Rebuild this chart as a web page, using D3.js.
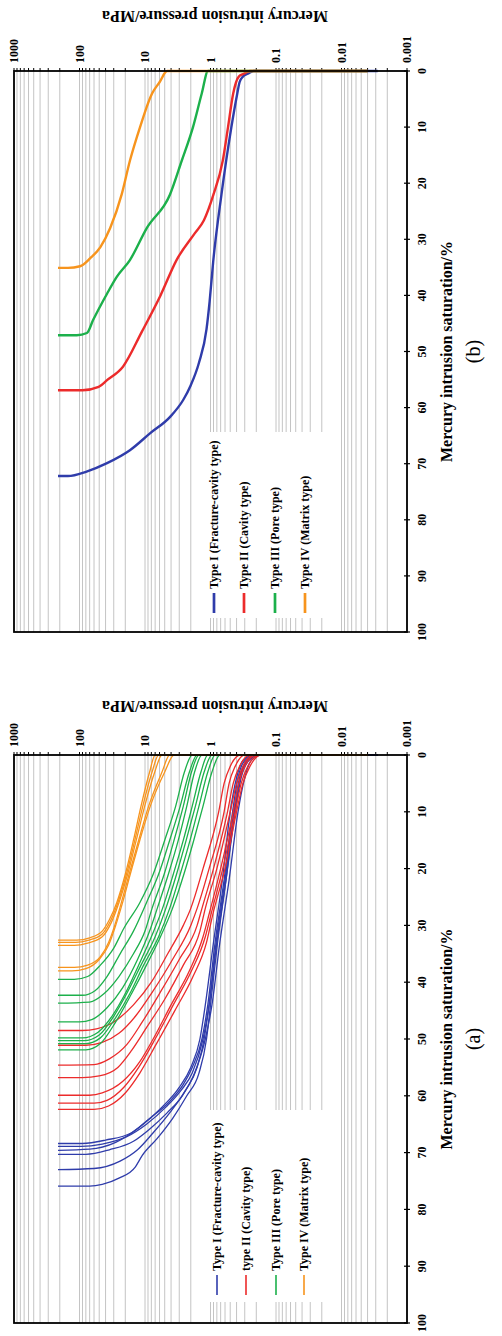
<!DOCTYPE html>
<html lang="en">
<head>
<meta charset="UTF-8">
<title>Mercury intrusion curves</title>
<script src="https://d3js.org/d3.v7.min.js"></script>
<style>
    body { margin: 0; background: #fff; }
    svg text { font-family: "Liberation Serif", "Times New Roman", serif; }
</style>
</head>
<body>
<script>
// pressure axis (MPa), log, and saturation axis (%)
var pressureTicks = [1000, 100, 10, 1, 0.1, 0.01, 0.001];
var pressureLabels = ["1000", "100", "10", "1", "0.1", "0.01", "0.001"];
var satTicks = [0, 10, 20, 30, 40, 50, 60, 70, 80, 90, 100];

var typeNames_b = ["Type I (Fracture-cavity type)", "Type II (Cavity type)", "Type III (Pore type)", "Type IV (Matrix type)"];
var typeNames_a = ["Type I (Fracture-cavity type)", "type II (Cavity type)", "Type III (Pore type)", "Type IV (Matrix type)"];
var typeColors = ["#2f3caa", "#ec2b2b", "#1cb04b", "#f7941d"];

// panel (b): one averaged curve per type, [saturation %, pressure MPa]
var typeI_b = [[0,0.0028],[0,0.22],[0.5,0.27],[1,0.32],[2,0.36],[4,0.39],[10,0.48],[22,0.68],[34,0.91],[41,1.03],[46,1.15],[52,1.5],[56,2.0],[58.6,2.6],[61.6,4.1],[64.6,8.4],[67.6,17],[69.9,38],[71.4,78],[72.2,150],[72.2,213]];
var typeII_b = [[0,0.004],[0,0.25],[0.5,0.31],[1,0.37],[4,0.45],[10,0.54],[16,0.65],[22,0.9],[26.6,1.26],[28.9,1.73],[33.7,3.3],[40,5.8],[46.5,11.2],[52.7,21.7],[55.1,38],[56.3,51],[56.9,90],[56.9,213]];
var typeIII_b = [[0,0.004],[0,1.09],[4,1.36],[10,1.85],[16,2.75],[22,4.15],[28,9.4],[33.7,17],[36.7,27],[39.7,38],[44.4,62],[46.7,77],[47.1,110],[47.1,213]];
var typeIV_b = [[0,0.004],[0,4.6],[2,6],[4,7.8],[10,11.9],[16,17],[22,22.7],[28,34],[31.4,48],[33.4,69],[34.8,98],[35.1,150],[35.1,213]];

// panel (a): all samples per type
var typeI_a = [
    [[0,0.0028],[0,0.2],[1,0.3],[4,0.38],[10,0.46],[22,0.62],[33,0.85],[44,1.1],[50,1.35],[55,1.9],[58,2.6],[61,4.2],[64,8.5],[66.5,16],[67.8,40],[68.4,90],[68.4,213]],
    [[0,0.0028],[0,0.18],[1,0.26],[4,0.34],[10,0.42],[22,0.58],[33,0.8],[44,1.05],[50,1.3],[56,1.9],[59,2.8],[62,4.8],[65,9.5],[67.2,19],[68.5,45],[68.9,95],[68.9,213]],
    [[0,0.0028],[0,0.22],[1,0.32],[4,0.4],[10,0.5],[22,0.66],[33,0.9],[44,1.2],[50,1.45],[55,2.0],[58.5,3.0],[62,5.5],[65.5,12],[68.2,28],[69.4,70],[69.6,213]],
    [[0,0.0028],[0,0.17],[1,0.24],[4,0.3],[10,0.38],[22,0.52],[33,0.72],[44,0.95],[50,1.2],[56,1.75],[60,2.7],[63,4.6],[66,8.8],[68,15],[69.5,35],[70.3,80],[70.3,213]],
    [[0,0.0028],[0,0.2],[1,0.28],[4,0.36],[10,0.44],[22,0.6],[33,0.82],[44,1.05],[50,1.25],[55,1.6],[59,2.4],[63,4.2],[66.5,7.5],[69.5,13],[71.5,24],[72.8,60],[73,213]],
    [[0,0.0028],[0,0.19],[1,0.27],[4,0.35],[10,0.43],[22,0.58],[33,0.78],[44,1.0],[50,1.15],[56,1.5],[60,2.3],[64,3.8],[67.5,6.5],[70.5,11],[72.5,14],[74.5,25],[75.6,45],[75.9,70],[75.9,213]]
];
var typeII_a = [
    [[0,0.004],[0,0.35],[2,0.5],[5,0.62],[10,0.75],[20,1.3],[27,2.0],[30,2.6],[35,4.5],[40,8],[44,15],[47,30],[48.2,55],[48.5,90],[48.5,213]],
    [[0,0.004],[0,0.3],[2,0.42],[5,0.52],[10,0.62],[20,1.05],[27,1.6],[30,2.0],[36,3.8],[42,8],[46,14],[49,25],[50.6,45],[51.1,80],[51.1,213]],
    [[0,0.004],[0,0.25],[2,0.36],[5,0.45],[10,0.55],[20,0.9],[27,1.35],[30,1.6],[36,3.0],[42,6],[47,11],[51,19],[53.5,35],[54.5,60],[54.6,213]],
    [[0,0.004],[0,0.22],[2,0.32],[5,0.4],[10,0.5],[20,0.8],[27,1.2],[31,1.45],[37,2.6],[43,5],[48,9.5],[52,16],[55,26],[56.5,50],[56.8,90],[56.8,213]],
    [[0,0.004],[0,0.2],[2,0.3],[5,0.37],[10,0.45],[20,0.7],[28,1.05],[32,1.3],[38,2.1],[44,4],[50,7.5],[54,12],[57.5,22],[59.5,45],[59.9,70],[59.9,213]],
    [[0,0.004],[0,0.18],[2,0.27],[5,0.34],[10,0.42],[20,0.65],[28,0.98],[32,1.2],[38,1.95],[44,3.7],[50,7],[55,12.5],[58.5,21],[60.8,38],[61.3,60],[61.3,213]],
    [[0,0.004],[0,0.17],[2,0.25],[5,0.32],[10,0.4],[20,0.6],[28,0.92],[33,1.15],[39,1.85],[45,3.5],[51,6.8],[56,12],[59.5,20],[61.8,36],[62.4,60],[62.4,213]]
];
var typeIII_a = [
    [[0,0.004],[0,1.9],[3,2.5],[9,3.4],[15,5],[21,7.5],[26,12],[30.5,21],[34,30],[37,48],[39,75],[39.5,120],[39.5,213]],
    [[0,0.004],[0,1.6],[3,2.1],[9,2.9],[15,4.2],[21,6.2],[26,9.5],[31,15],[35,24],[39,38],[41.5,58],[42.3,90],[42.3,213]],
    [[0,0.004],[0,1.5],[3,1.95],[9,2.6],[15,3.6],[21,5.1],[27,7.8],[31,10],[35,15],[39,25],[42,42],[43.5,70],[43.7,213]],
    [[0,0.004],[0,1.35],[3,1.75],[9,2.3],[15,3.1],[21,4.4],[27,6.5],[31,8.5],[36,13],[41,22],[44.5,38],[46.6,65],[47,100],[47,213]],
    [[0,0.004],[0,1.1],[3,1.4],[9,1.9],[15,2.6],[21,3.7],[27,5.4],[32,8],[37,12.5],[42,20],[46,32],[48.8,52],[49.8,90],[49.8,213]],
    [[0,0.004],[0,0.95],[3,1.25],[9,1.7],[15,2.35],[21,3.3],[27,4.8],[32,7],[37,11.5],[42,19],[46,30],[49.3,50],[50.3,85],[50.3,213]],
    [[0,0.004],[0,0.85],[3,1.1],[9,1.5],[15,2.05],[21,2.9],[27,4.2],[32,6.2],[37,10.5],[42,17],[46.5,29],[49.8,48],[50.8,80],[50.8,213]],
    [[0,0.004],[0,0.72],[3,0.95],[9,1.3],[15,1.8],[21,2.55],[27,3.8],[32,5.8],[37,9.5],[42,16],[47,28],[50.8,48],[51.9,80],[51.9,213]]
];
var typeIV_a = [
    [[0,0.004],[0,7],[3,8.5],[9,11.5],[15,15],[21,20],[26,27],[29,35],[31,45],[32.2,70],[32.6,110],[32.6,213]],
    [[0,0.004],[0,6.2],[3,7.8],[9,10.8],[15,14.3],[21,19.2],[26,26],[29.3,34],[31.5,45],[32.6,72],[33,115],[33,213]],
    [[0,0.004],[0,5.5],[3,7.1],[9,10.1],[15,13.6],[21,18.4],[26,25],[29.6,33],[32,45],[33.1,75],[33.5,120],[33.5,213]],
    [[0,0.004],[0,4.2],[3,5.5],[9,8.8],[15,12.5],[21,17.5],[26,23],[30,29],[33,36],[35.5,48],[37,75],[37.4,120],[37.4,213]],
    [[0,0.004],[0,3.6],[3,5],[9,8.3],[15,12],[21,16.8],[26,22],[30,28],[33.5,36],[36,50],[37.6,80],[38,130],[38,213]]
];

var panels = [
    {top: 71, bottom: 632, titleY: 17, tag: "(b)", lw: 2.4, names: typeNames_b,
     groups: [[typeI_b], [typeII_b], [typeIII_b], [typeIV_b]],
     legend: {x0: 200, x1: 330, y0: 432, y1: 618, xs: [214, 244, 275, 305], text: 589, s0: 593, s1: 613}},
    {top: 755, bottom: 1323, titleY: 707, tag: "(a)", lw: 1.3, names: typeNames_a,
     groups: [typeI_a, typeII_a, typeIII_a, typeIV_a],
     legend: {x0: 204, x1: 328, y0: 1110, y1: 1302, xs: [217, 246, 276, 304], text: 1271, s0: 1275, s1: 1295}}
];

var width = 502, height = 1336;
var left = 14, right = 407;

var svg = d3.select("body").append("svg")
    .attr("width", width)
    .attr("height", height);

// every 1..9 x 10^k between 0.001 and 1000
var gridVals = [];
for (var k = -3; k <= 2; k++) {
    for (var m = 1; m <= 9; m++) gridVals.push(+(m * Math.pow(10, k)).toPrecision(3));
}
gridVals.push(1000);

var x = d3.scaleLog().domain([1000, 0.001]).range([left, right]);

panels.forEach(function (P) {
    var y = d3.scaleLinear().domain([0, 100]).range([P.top, P.bottom]);
    var g = svg.append("g");
    var mid = (P.top + P.bottom) / 2;

    // grid
    g.selectAll(".grid")
        .data(gridVals)
        .enter().append("line")
        .attr("x1", function (d) { return x(d); })
        .attr("x2", function (d) { return x(d); })
        .attr("y1", P.top)
        .attr("y2", P.bottom)
        .attr("stroke", "#c4c4c4")
        .attr("stroke-width", 1);

    // legend box hides the grid
    g.append("rect")
        .attr("x", P.legend.x0)
        .attr("y", P.legend.y0)
        .attr("width", P.legend.x1 - P.legend.x0)
        .attr("height", P.legend.y1 - P.legend.y0)
        .attr("fill", "#fff");

    // small ticks on pressure axis
    g.selectAll(".ptick")
        .data(gridVals)
        .enter().append("line")
        .attr("x1", function (d) { return x(d); })
        .attr("x2", function (d) { return x(d); })
        .attr("y1", P.top - 3)
        .attr("y2", P.top)
        .attr("stroke", "#000")
        .attr("stroke-width", 1);

    // saturation ticks
    g.selectAll(".stick")
        .data(satTicks)
        .enter().append("line")
        .attr("x1", right - 3)
        .attr("x2", right + 3)
        .attr("y1", function (d) { return y(d); })
        .attr("y2", function (d) { return y(d); })
        .attr("stroke", "#000")
        .attr("stroke-width", 1.2);

    // curves
    var line = d3.line()
        .x(function (d) { return x(d[1]); })
        .y(function (d) { return y(d[0]); })
        .curve(d3.curveMonotoneX);

    P.groups.forEach(function (curves, i) {
        curves.forEach(function (c) {
            g.append("path")
                .datum(c.slice().reverse())
                .attr("d", line)
                .attr("fill", "none")
                .attr("stroke", typeColors[i])
                .attr("stroke-width", P.lw);
        });
    });

    // frame
    g.append("rect")
        .attr("x", left)
        .attr("y", P.top)
        .attr("width", right - left)
        .attr("height", P.bottom - P.top)
        .attr("fill", "none")
        .attr("stroke", "#000")
        .attr("stroke-width", 1.8);

    // pressure tick labels (rotated)
    g.selectAll(".plab")
        .data(pressureTicks)
        .enter().append("text")
        .attr("transform", function (d) { return "translate(" + x(d) + "," + (P.top - 8) + ") rotate(-90)"; })
        .attr("dy", "0.35em")
        .style("font-size", "12px")
        .style("font-weight", "bold")
        .text(function (d, i) { return pressureLabels[i]; });

    // saturation tick labels
    g.selectAll(".slab")
        .data(satTicks)
        .enter().append("text")
        .attr("transform", function (d) { return "translate(" + (right + 15) + "," + y(d) + ") rotate(-90)"; })
        .attr("dy", "0.35em")
        .attr("text-anchor", "middle")
        .style("font-size", "12px")
        .style("font-weight", "bold")
        .text(function (d) { return d; });

    // axis titles
    g.append("text")
        .attr("transform", "translate(215," + P.titleY + ") rotate(180)")
        .attr("dy", "0.35em")
        .attr("text-anchor", "middle")
        .style("font-size", "16px")
        .style("font-weight", "bold")
        .text("Mercury intrusion pressure/MPa");

    g.append("text")
        .attr("transform", "translate(446," + mid + ") rotate(-90)")
        .attr("dy", "0.35em")
        .attr("text-anchor", "middle")
        .style("font-size", "16px")
        .style("font-weight", "bold")
        .text("Mercury intrusion saturation/%");

    g.append("text")
        .attr("transform", "translate(473," + mid + ") rotate(-90)")
        .attr("dy", "0.35em")
        .attr("text-anchor", "middle")
        .style("font-size", "20px")
        .text(P.tag);

    // legend
    P.names.forEach(function (name, i) {
        var lx = P.legend.xs[i];
        g.append("line")
            .attr("x1", lx).attr("x2", lx)
            .attr("y1", P.legend.s0).attr("y2", P.legend.s1)
            .attr("stroke", typeColors[i])
            .attr("stroke-width", P.lw + 0.3);
        g.append("text")
            .attr("transform", "translate(" + lx + "," + P.legend.text + ") rotate(-90)")
            .attr("dy", "0.35em")
            .style("font-size", "12px")
            .style("font-weight", "bold")
            .text(name);
    });
});
</script>
</body>
</html>
